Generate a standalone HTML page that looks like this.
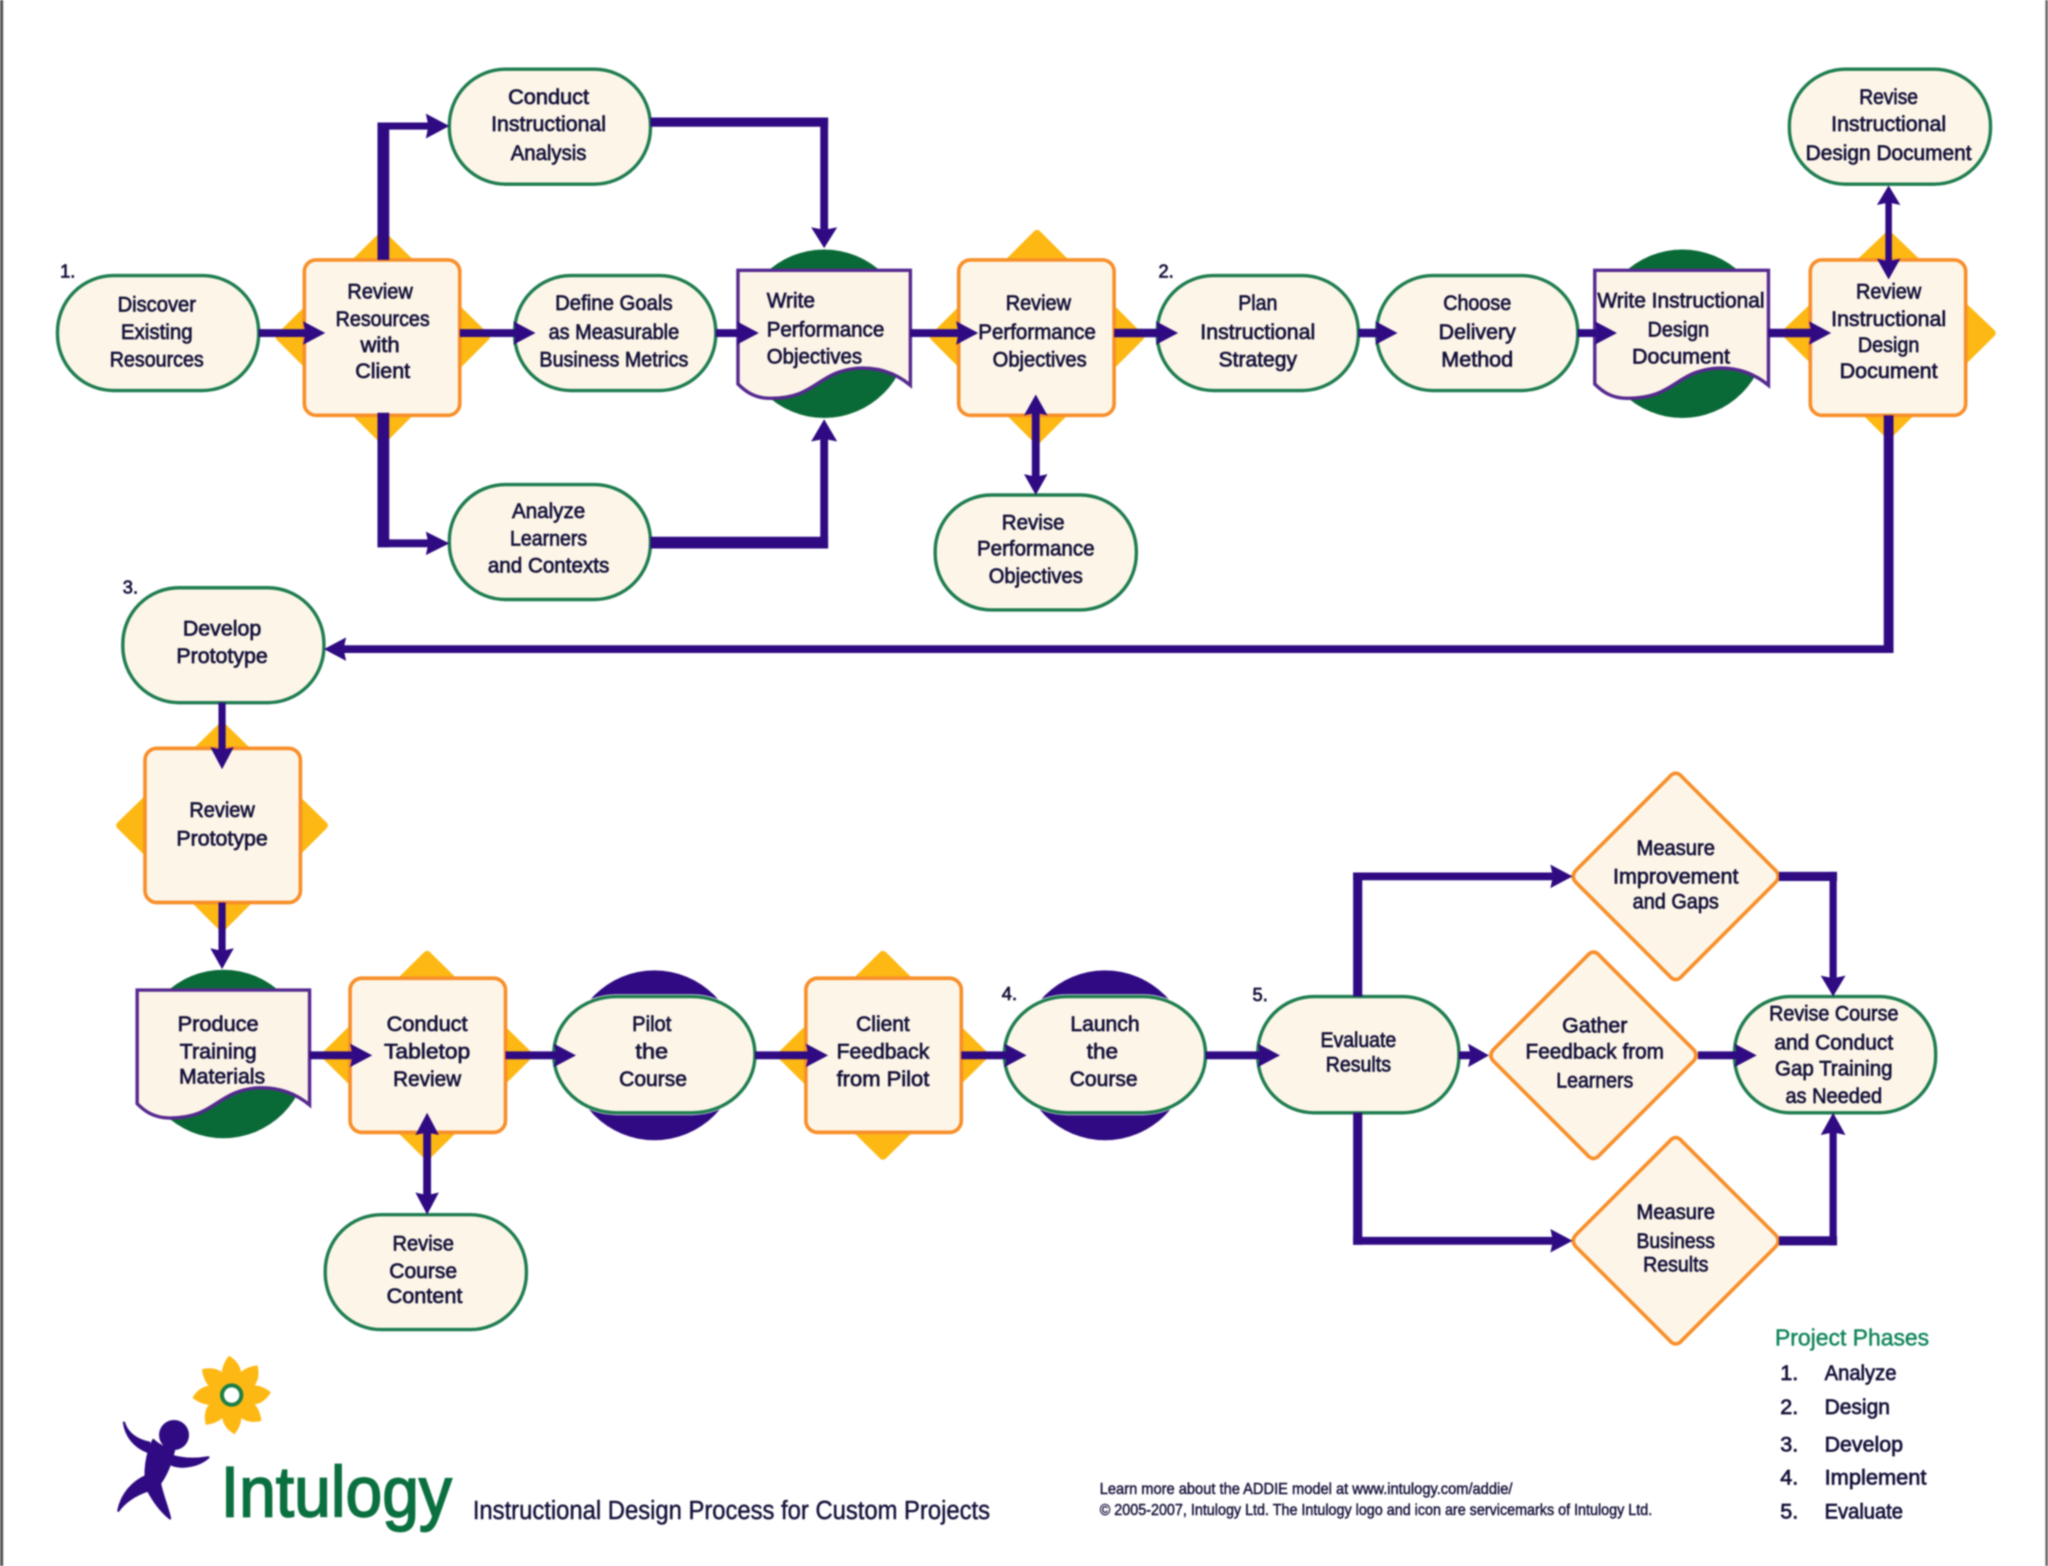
<!DOCTYPE html>
<html>
<head>
<meta charset="utf-8">
<title>Instructional Design Process for Custom Projects</title>
<style>
html,body{margin:0;padding:0;background:#fff;width:2048px;height:1566px;overflow:hidden}
svg{display:block;filter:blur(.7px)}
text{font-family:"Liberation Sans",sans-serif;fill:#15123a;stroke:#15123a;stroke-width:.55}
.t{font-size:16.5px;text-anchor:middle}
.l{font-size:16.5px}
.d{fill:#fdb813;stroke:#fdb813;stroke-width:6;stroke-linejoin:round}
.p{fill:#fdf6e8;stroke:#1f7d50;stroke-width:2.6}
.h{fill:#fff;stroke:#fff;stroke-width:3.5}
.b{fill:#fdf6e8;stroke:#f78f2a;stroke-width:2.8}
.m{fill:#fdf6e8;stroke:#f78f2a;stroke-width:2.8;stroke-linejoin:round}
.doc{fill:#fdf4e8;stroke:#55298f;stroke-width:2.6;stroke-linejoin:miter}
.c{fill:none;stroke:#2f0a82;stroke-linecap:butt}
.a{fill:#2f0a82}
</style>
</head>
<body>
<svg xmlns="http://www.w3.org/2000/svg" width="2048" height="1566" viewBox="0 0 1568 1199">
<rect width="1568" height="1199" fill="#fff"/>
<rect x="0" y="0" width="2.4" height="1199" fill="#555"/>
<rect x="1566" y="0" width="2" height="1199" fill="#666"/>

<!-- yellow diamonds -->
<polygon class="d" points="293,180 372,258 293,337 214,258"/>
<polygon class="d" points="794,179 873,258 794,337 715,258"/>
<polygon class="d" points="1446,180 1525,255 1446,333 1367,255"/>
<polygon class="d" points="170,556 248,632 170,710 92,632"/>
<polygon class="d" points="327,731 405,808 327,885 249,808"/>
<polygon class="d" points="676,731 754,808 676,885 598,808"/>

<!-- circles -->
<circle cx="631" cy="255.500" r="64.500" fill="#0a6a37"/>
<circle cx="1288" cy="255.500" r="64.500" fill="#0a6a37"/>
<circle cx="171" cy="807" r="64.500" fill="#0a6a37"/>
<circle cx="501" cy="808" r="65" fill="#2f0a82"/>
<circle cx="846" cy="808" r="65" fill="#2f0a82"/>

<!-- pill halos over purple circles -->
<rect class="h" x="424" y="763" width="154" height="89" rx="48" ry="44"/>
<rect class="h" x="769" y="763" width="154" height="89" rx="48" ry="44"/>

<!-- pills -->
<rect class="p" x="44" y="211" width="154" height="88" rx="43"/>
<rect class="p" x="344" y="53" width="154" height="88" rx="43"/>
<rect class="p" x="394" y="211" width="154" height="88" rx="43"/>
<rect class="p" x="344" y="371" width="154" height="88" rx="43"/>
<rect class="p" x="886" y="211" width="154" height="88" rx="43"/>
<rect class="p" x="1054" y="211" width="154" height="88" rx="43"/>
<rect class="p" x="716" y="379" width="154" height="88" rx="43"/>
<rect class="p" x="1370" y="53" width="154" height="88" rx="43"/>
<rect class="p" x="94" y="450" width="154" height="88" rx="43"/>
<rect class="p" x="249" y="930" width="154" height="88" rx="43"/>
<rect class="p" x="424" y="763" width="154" height="89" rx="48" ry="44"/>
<rect class="p" x="769" y="763" width="154" height="89" rx="48" ry="44"/>
<rect class="p" x="963" y="763" width="154" height="89" rx="43"/>
<rect class="p" x="1328" y="763" width="154" height="89" rx="43"/>

<!-- review boxes -->
<rect class="b" x="233" y="199" width="119" height="119" rx="9"/>
<rect class="b" x="734" y="199" width="119" height="119" rx="9"/>
<rect class="b" x="1386" y="199" width="119" height="119" rx="9"/>
<rect class="b" x="111" y="573" width="119" height="118" rx="9"/>
<rect class="b" x="268" y="749" width="119" height="118" rx="9"/>
<rect class="b" x="617" y="749" width="119" height="118" rx="9"/>

<!-- decision diamonds -->
<path class="m" d="M1278,595 Q1283,589 1288,595 L1359,666 Q1364,671 1359,676 L1288,747 Q1283,753 1278,747 L1207,676 Q1202,671 1207,666 Z"/>
<path class="m" d="M1215,732 Q1220,726 1225,732 L1296,803 Q1301,808 1296,813 L1225,884 Q1220,890 1215,884 L1144,813 Q1139,808 1144,803 Z"/>
<path class="m" d="M1278,874 Q1283,868 1288,874 L1359,945 Q1364,950 1359,955 L1288,1026 Q1283,1032 1278,1026 L1207,955 Q1202,950 1207,945 Z"/>

<!-- documents -->
<path class="doc" d="M565,207 H697 V295 C685,285 671,281 656,282 C625,285 625,305 590,305 C578,305 571,300 565,294 Z"/>
<path class="doc" d="M1221,207 H1354 V295 C1342,285 1328,281 1313,282 C1282,285 1282,305 1246,305 C1234,305 1227,300 1221,294 Z"/>
<path class="doc" d="M105,758 H237 V846 C225,836 211,832 196,833 C165,836 165,856 130,856 C118,856 111,851 105,845 Z"/>

<!-- connectors -->
<g class="c">
<path stroke-width="6" d="M198,255 H234"/>
<path stroke-width="6" d="M352,255 H395"/>
<path stroke-width="6" d="M548,255 H567"/>
<path stroke-width="6" d="M697,255 H734"/>
<path stroke-width="6.500" d="M853,255 H887"/>
<path stroke-width="6.500" d="M1040,255 H1055"/>
<path stroke-width="6" d="M1208,255 H1223"/>
<path stroke-width="6.500" d="M1354,255 H1387"/>
<path stroke-width="9" d="M293.500,199 V93.750"/>
<path stroke-width="5.500" d="M289,96.500 H328"/>
<path stroke-width="9" d="M293.500,316 V419"/>
<path stroke-width="6" d="M289,416 H328"/>
<path stroke-width="7" d="M498,93.500 H634"/>
<path stroke-width="6" d="M631,90 V176"/>
<path stroke-width="9" d="M498,415.500 H634"/>
<path stroke-width="6" d="M631,420 V336"/>
<path stroke-width="6" d="M793,315 V366"/>
<path stroke-width="5" d="M1446,154 V201"/>
<path stroke-width="7.500" d="M1446,318 V500"/>
<path stroke-width="6" d="M1449.500,497 H263"/>
<path stroke-width="5.500" d="M170,538 V574"/>
<path stroke-width="5.500" d="M170,691 V728"/>
<path stroke-width="6" d="M237,808 H270"/>
<path stroke-width="6" d="M387,808 H427"/>
<path stroke-width="6" d="M578,808 H619"/>
<path stroke-width="6" d="M736,808 H771"/>
<path stroke-width="6" d="M923,808 H965"/>
<path stroke-width="6" d="M1117,808 H1126"/>
<path stroke-width="6" d="M1300,808 H1330"/>
<path stroke-width="7" d="M1039.500,763 V668"/>
<path stroke-width="6" d="M1036,671 H1189"/>
<path stroke-width="7" d="M1039.500,852 V953"/>
<path stroke-width="6" d="M1036,950 H1189"/>
<path stroke-width="7" d="M1362,671 H1406.500"/>
<path stroke-width="5.500" d="M1403.500,667.500 V749"/>
<path stroke-width="7" d="M1362,950 H1406.500"/>
<path stroke-width="5.500" d="M1403.500,953.500 V867"/>
<path stroke-width="6" d="M327,866 V916"/>
</g>

<!-- arrowheads -->
<g class="a">
<polygon points="232,246 249,255 232,264 234,255"/>
<polygon points="393,246 410,255 393,264 395,255"/>
<polygon points="564,246 581,255 564,264 566,255"/>
<polygon points="732,246 749,255 732,264 734,255"/>
<polygon points="885,246 902,255 885,264 887,255"/>
<polygon points="1053,246 1070,255 1053,264 1055,255"/>
<polygon points="1221,246 1238,255 1221,264 1223,255"/>
<polygon points="1385,246 1402,255 1385,264 1387,255"/>
<polygon points="326,87 344,96.500 326,106 328,96.500"/>
<polygon points="326,407 344,416 326,425 328,416"/>
<polygon points="621,174 631,190 641,174 631,176"/>
<polygon points="621,338 631,321 641,338 631,336"/>
<polygon points="784,318 793,302 802,318 793,316"/>
<polygon points="784,363 793,379 802,363 793,365"/>
<polygon points="1437,157 1446,142 1455,157 1446,155"/>
<polygon points="1437,198 1446,214 1455,198 1446,200"/>
<polygon points="265,488 248,497 265,506 263,497"/>
<polygon points="161,572 170,589 179,572 170,574"/>
<polygon points="161,726 170,742 179,726 170,728"/>
<polygon points="268,799 285,808 268,817 270,808"/>
<polygon points="424,799 441,808 424,817 426,808"/>
<polygon points="617,799 634,808 617,817 619,808"/>
<polygon points="769,799 786,808 769,817 771,808"/>
<polygon points="963,799 980,808 963,817 965,808"/>
<polygon points="1124,799 1140,808 1124,817 1126,808"/>
<polygon points="1328,799 1345,808 1328,817 1330,808"/>
<polygon points="1187,662 1204,671 1187,680 1189,671"/>
<polygon points="1187,941 1204,950 1187,959 1189,950"/>
<polygon points="1394,747 1403.500,763 1413,747 1403.500,749"/>
<polygon points="1394,869 1403.500,852 1413,869 1403.500,867"/>
<polygon points="318,869 327,852 336,869 327,867"/>
<polygon points="318,913 327,930 336,913 327,915"/>
</g>

<!-- node labels -->
<g>
<text class="t" x="120" y="238.500" textLength="60" lengthAdjust="spacingAndGlyphs">Discover</text>
<text class="t" x="120" y="259.500" textLength="55" lengthAdjust="spacingAndGlyphs">Existing</text>
<text class="t" x="120" y="280.500" textLength="72" lengthAdjust="spacingAndGlyphs">Resources</text>

<text class="t" x="291" y="228.500" textLength="50" lengthAdjust="spacingAndGlyphs">Review</text>
<text class="t" x="293" y="249.500" textLength="72" lengthAdjust="spacingAndGlyphs">Resources</text>
<text class="t" x="291" y="269.500" textLength="30" lengthAdjust="spacingAndGlyphs">with</text>
<text class="t" x="293" y="289.500" textLength="42" lengthAdjust="spacingAndGlyphs">Client</text>

<text class="t" x="420" y="79.500" textLength="62" lengthAdjust="spacingAndGlyphs">Conduct</text>
<text class="t" x="420" y="100.500" textLength="88" lengthAdjust="spacingAndGlyphs">Instructional</text>
<text class="t" x="420" y="122.500" textLength="58" lengthAdjust="spacingAndGlyphs">Analysis</text>

<text class="t" x="470" y="237.500" textLength="90" lengthAdjust="spacingAndGlyphs">Define Goals</text>
<text class="t" x="470" y="259.500" textLength="100" lengthAdjust="spacingAndGlyphs">as Measurable</text>
<text class="t" x="470" y="280.500" textLength="114" lengthAdjust="spacingAndGlyphs">Business Metrics</text>

<text class="t" x="420" y="396.500" textLength="56" lengthAdjust="spacingAndGlyphs">Analyze</text>
<text class="t" x="420" y="417.500" textLength="59" lengthAdjust="spacingAndGlyphs">Learners</text>
<text class="t" x="420" y="438.500" textLength="93" lengthAdjust="spacingAndGlyphs">and Contexts</text>

<text class="l" x="587" y="235.500" textLength="37" lengthAdjust="spacingAndGlyphs">Write</text>
<text class="l" x="587" y="257.500" textLength="90" lengthAdjust="spacingAndGlyphs">Performance</text>
<text class="l" x="587" y="278.500" textLength="73" lengthAdjust="spacingAndGlyphs">Objectives</text>

<text class="t" x="795" y="237.500" textLength="50" lengthAdjust="spacingAndGlyphs">Review</text>
<text class="t" x="794" y="259.500" textLength="90" lengthAdjust="spacingAndGlyphs">Performance</text>
<text class="t" x="796" y="280.500" textLength="72" lengthAdjust="spacingAndGlyphs">Objectives</text>

<text class="t" x="791" y="405.500" textLength="48" lengthAdjust="spacingAndGlyphs">Revise</text>
<text class="t" x="793" y="425.500" textLength="90" lengthAdjust="spacingAndGlyphs">Performance</text>
<text class="t" x="793" y="446.500" textLength="72" lengthAdjust="spacingAndGlyphs">Objectives</text>

<text class="t" x="963" y="237.500" textLength="30" lengthAdjust="spacingAndGlyphs">Plan</text>
<text class="t" x="963" y="259.500" textLength="88" lengthAdjust="spacingAndGlyphs">Instructional</text>
<text class="t" x="963" y="280.500" textLength="60" lengthAdjust="spacingAndGlyphs">Strategy</text>

<text class="t" x="1131" y="237.500" textLength="52" lengthAdjust="spacingAndGlyphs">Choose</text>
<text class="t" x="1131" y="259.500" textLength="59" lengthAdjust="spacingAndGlyphs">Delivery</text>
<text class="t" x="1131" y="280.500" textLength="55" lengthAdjust="spacingAndGlyphs">Method</text>

<text class="t" x="1287" y="235.500" textLength="128" lengthAdjust="spacingAndGlyphs">Write Instructional</text>
<text class="t" x="1285" y="257.500" textLength="47" lengthAdjust="spacingAndGlyphs">Design</text>
<text class="t" x="1287" y="278.500" textLength="75" lengthAdjust="spacingAndGlyphs">Document</text>

<text class="t" x="1446" y="228.500" textLength="50" lengthAdjust="spacingAndGlyphs">Review</text>
<text class="t" x="1446" y="249.500" textLength="88" lengthAdjust="spacingAndGlyphs">Instructional</text>
<text class="t" x="1446" y="269.500" textLength="47" lengthAdjust="spacingAndGlyphs">Design</text>
<text class="t" x="1446" y="289.500" textLength="75" lengthAdjust="spacingAndGlyphs">Document</text>

<text class="t" x="1446" y="79.500" textLength="45" lengthAdjust="spacingAndGlyphs">Revise</text>
<text class="t" x="1446" y="100.500" textLength="88" lengthAdjust="spacingAndGlyphs">Instructional</text>
<text class="t" x="1446" y="122.500" textLength="127" lengthAdjust="spacingAndGlyphs">Design Document</text>

<text class="t" x="170" y="486.500" textLength="60" lengthAdjust="spacingAndGlyphs">Develop</text>
<text class="t" x="170" y="507.500" textLength="70" lengthAdjust="spacingAndGlyphs">Prototype</text>

<text class="t" x="170" y="625.500" textLength="50" lengthAdjust="spacingAndGlyphs">Review</text>
<text class="t" x="170" y="647.500" textLength="70" lengthAdjust="spacingAndGlyphs">Prototype</text>

<text class="t" x="167" y="789.500" textLength="62" lengthAdjust="spacingAndGlyphs">Produce</text>
<text class="t" x="167" y="810.500" textLength="59" lengthAdjust="spacingAndGlyphs">Training</text>
<text class="t" x="170" y="829.500" textLength="66" lengthAdjust="spacingAndGlyphs">Materials</text>

<text class="t" x="327" y="789.500" textLength="62" lengthAdjust="spacingAndGlyphs">Conduct</text>
<text class="t" x="327" y="810.500" textLength="66" lengthAdjust="spacingAndGlyphs">Tabletop</text>
<text class="t" x="327" y="831.500" textLength="52" lengthAdjust="spacingAndGlyphs">Review</text>

<text class="t" x="324" y="957.500" textLength="47" lengthAdjust="spacingAndGlyphs">Revise</text>
<text class="t" x="324" y="978.500" textLength="52" lengthAdjust="spacingAndGlyphs">Course</text>
<text class="t" x="325" y="997.500" textLength="58" lengthAdjust="spacingAndGlyphs">Content</text>

<text class="t" x="499" y="789.500" textLength="30" lengthAdjust="spacingAndGlyphs">Pilot</text>
<text class="t" x="499" y="810.500" textLength="25" lengthAdjust="spacingAndGlyphs">the</text>
<text class="t" x="500" y="831.500" textLength="52" lengthAdjust="spacingAndGlyphs">Course</text>

<text class="t" x="676" y="789.500" textLength="41" lengthAdjust="spacingAndGlyphs">Client</text>
<text class="t" x="676" y="810.500" textLength="71" lengthAdjust="spacingAndGlyphs">Feedback</text>
<text class="t" x="676" y="831.500" textLength="71" lengthAdjust="spacingAndGlyphs">from Pilot</text>

<text class="t" x="846" y="789.500" textLength="53" lengthAdjust="spacingAndGlyphs">Launch</text>
<text class="t" x="844" y="810.500" textLength="24" lengthAdjust="spacingAndGlyphs">the</text>
<text class="t" x="845" y="831.500" textLength="52" lengthAdjust="spacingAndGlyphs">Course</text>

<text class="t" x="1040" y="801.500" textLength="58" lengthAdjust="spacingAndGlyphs">Evaluate</text>
<text class="t" x="1040" y="820.500" textLength="50" lengthAdjust="spacingAndGlyphs">Results</text>

<text class="t" x="1283" y="654.500" textLength="60" lengthAdjust="spacingAndGlyphs">Measure</text>
<text class="t" x="1283" y="676.500" textLength="96" lengthAdjust="spacingAndGlyphs">Improvement</text>
<text class="t" x="1283" y="695.500" textLength="66" lengthAdjust="spacingAndGlyphs">and Gaps</text>

<text class="t" x="1221" y="790.500" textLength="50" lengthAdjust="spacingAndGlyphs">Gather</text>
<text class="t" x="1221" y="810.500" textLength="106" lengthAdjust="spacingAndGlyphs">Feedback from</text>
<text class="t" x="1221" y="832.500" textLength="59" lengthAdjust="spacingAndGlyphs">Learners</text>

<text class="t" x="1283" y="933.500" textLength="60" lengthAdjust="spacingAndGlyphs">Measure</text>
<text class="t" x="1283" y="955.500" textLength="60" lengthAdjust="spacingAndGlyphs">Business</text>
<text class="t" x="1283" y="973.500" textLength="50" lengthAdjust="spacingAndGlyphs">Results</text>

<text class="t" x="1404" y="781.500" textLength="99" lengthAdjust="spacingAndGlyphs">Revise Course</text>
<text class="t" x="1404" y="803.500" textLength="91" lengthAdjust="spacingAndGlyphs">and Conduct</text>
<text class="t" x="1404" y="823.500" textLength="90" lengthAdjust="spacingAndGlyphs">Gap Training</text>
<text class="t" x="1404" y="844.500" textLength="74" lengthAdjust="spacingAndGlyphs">as Needed</text>
</g>

<!-- phase numbers -->
<g>
<text x="46" y="212.500" style="font-size:14px">1.</text>
<text x="887" y="212.500" style="font-size:14px">2.</text>
<text x="94" y="454.500" style="font-size:14px">3.</text>
<text x="767" y="765.500" style="font-size:14px">4.</text>
<text x="959" y="766.500" style="font-size:14px">5.</text>
</g>

<!-- legend -->
<text x="1359" y="1030" textLength="118" lengthAdjust="spacingAndGlyphs" style="font-size:18px;fill:#10855a;stroke:#10855a;stroke-width:.35">Project Phases</text>
<g>
<text class="l" x="1363" y="1056.500">1.</text><text class="l" x="1397" y="1056.500" textLength="55" lengthAdjust="spacingAndGlyphs">Analyze</text>
<text class="l" x="1363" y="1082.500">2.</text><text class="l" x="1397" y="1082.500" textLength="50" lengthAdjust="spacingAndGlyphs">Design</text>
<text class="l" x="1363" y="1111.500">3.</text><text class="l" x="1397" y="1111.500" textLength="60" lengthAdjust="spacingAndGlyphs">Develop</text>
<text class="l" x="1363" y="1136.500">4.</text><text class="l" x="1397" y="1136.500" textLength="78" lengthAdjust="spacingAndGlyphs">Implement</text>
<text class="l" x="1363" y="1162.500">5.</text><text class="l" x="1397" y="1162.500" textLength="60" lengthAdjust="spacingAndGlyphs">Evaluate</text>
</g>

<!-- footer -->
<text x="362" y="1163" textLength="396" lengthAdjust="spacingAndGlyphs" style="font-size:19.5px;stroke-width:.35">Instructional Design Process for Custom Projects</text>
<text x="842" y="1144" textLength="316" lengthAdjust="spacingAndGlyphs" style="font-size:12px;stroke-width:.35">Learn more about the ADDIE model at www.intulogy.com/addie/</text>
<text x="842" y="1160" textLength="423" lengthAdjust="spacingAndGlyphs" style="font-size:12px;stroke-width:.35">© 2005-2007, Intulogy Ltd.  The Intulogy logo and icon are servicemarks of Intulogy Ltd.</text>

<!-- logo wordmark -->
<text x="169" y="1161" textLength="177" lengthAdjust="spacingAndGlyphs" style="font-size:55px;fill:#0b7040;stroke:#0b7040;stroke-width:1.3">Intulogy</text>

<!-- logo figure and flower -->
<g transform="translate(68.9,1026) scale(.2552)">
<circle cx="252" cy="285" r="45" fill="#2f0a82"/>
<g fill="#2f0a82" stroke="#2f0a82" stroke-width="7" stroke-linejoin="round">
<path d="M190,300 C170,340 160,400 172,447 C190,482 215,515 240,535 C232,500 215,460 210,430 C232,400 245,360 252,330 C225,325 205,315 190,300 Z"/>
<path d="M102,248 C112,280 140,300 178,308 L172,335 C135,320 108,290 102,248 Z"/>
<path d="M247,348 C280,358 320,358 355,352 C330,375 280,388 245,374 Z"/>
<path d="M168,408 C130,425 95,460 85,512 C100,490 130,465 178,450 Z"/>
</g>
<g transform="translate(425,165) rotate(-4)" fill="#fdb813">
<path d="M-14,-30 C-36,-58 -22,-95 0,-118 C34,-95 44,-58 18,-30 Z"/>
<path transform="rotate(45)" d="M-14,-30 C-36,-58 -22,-95 0,-118 C34,-95 44,-58 18,-30 Z"/>
<path transform="rotate(90)" d="M-14,-30 C-36,-58 -22,-95 0,-118 C34,-95 44,-58 18,-30 Z"/>
<path transform="rotate(135)" d="M-14,-30 C-36,-58 -22,-95 0,-118 C34,-95 44,-58 18,-30 Z"/>
<path transform="rotate(180)" d="M-14,-30 C-36,-58 -22,-95 0,-118 C34,-95 44,-58 18,-30 Z"/>
<path transform="rotate(225)" d="M-14,-30 C-36,-58 -22,-95 0,-118 C34,-95 44,-58 18,-30 Z"/>
<path transform="rotate(270)" d="M-14,-30 C-36,-58 -22,-95 0,-118 C34,-95 44,-58 18,-30 Z"/>
<path transform="rotate(315)" d="M-14,-30 C-36,-58 -22,-95 0,-118 C34,-95 44,-58 18,-30 Z"/>
<circle r="29" fill="#fff" stroke="#1c7f45" stroke-width="12"/>
</g>
</g>
</svg>
</body>
</html>
